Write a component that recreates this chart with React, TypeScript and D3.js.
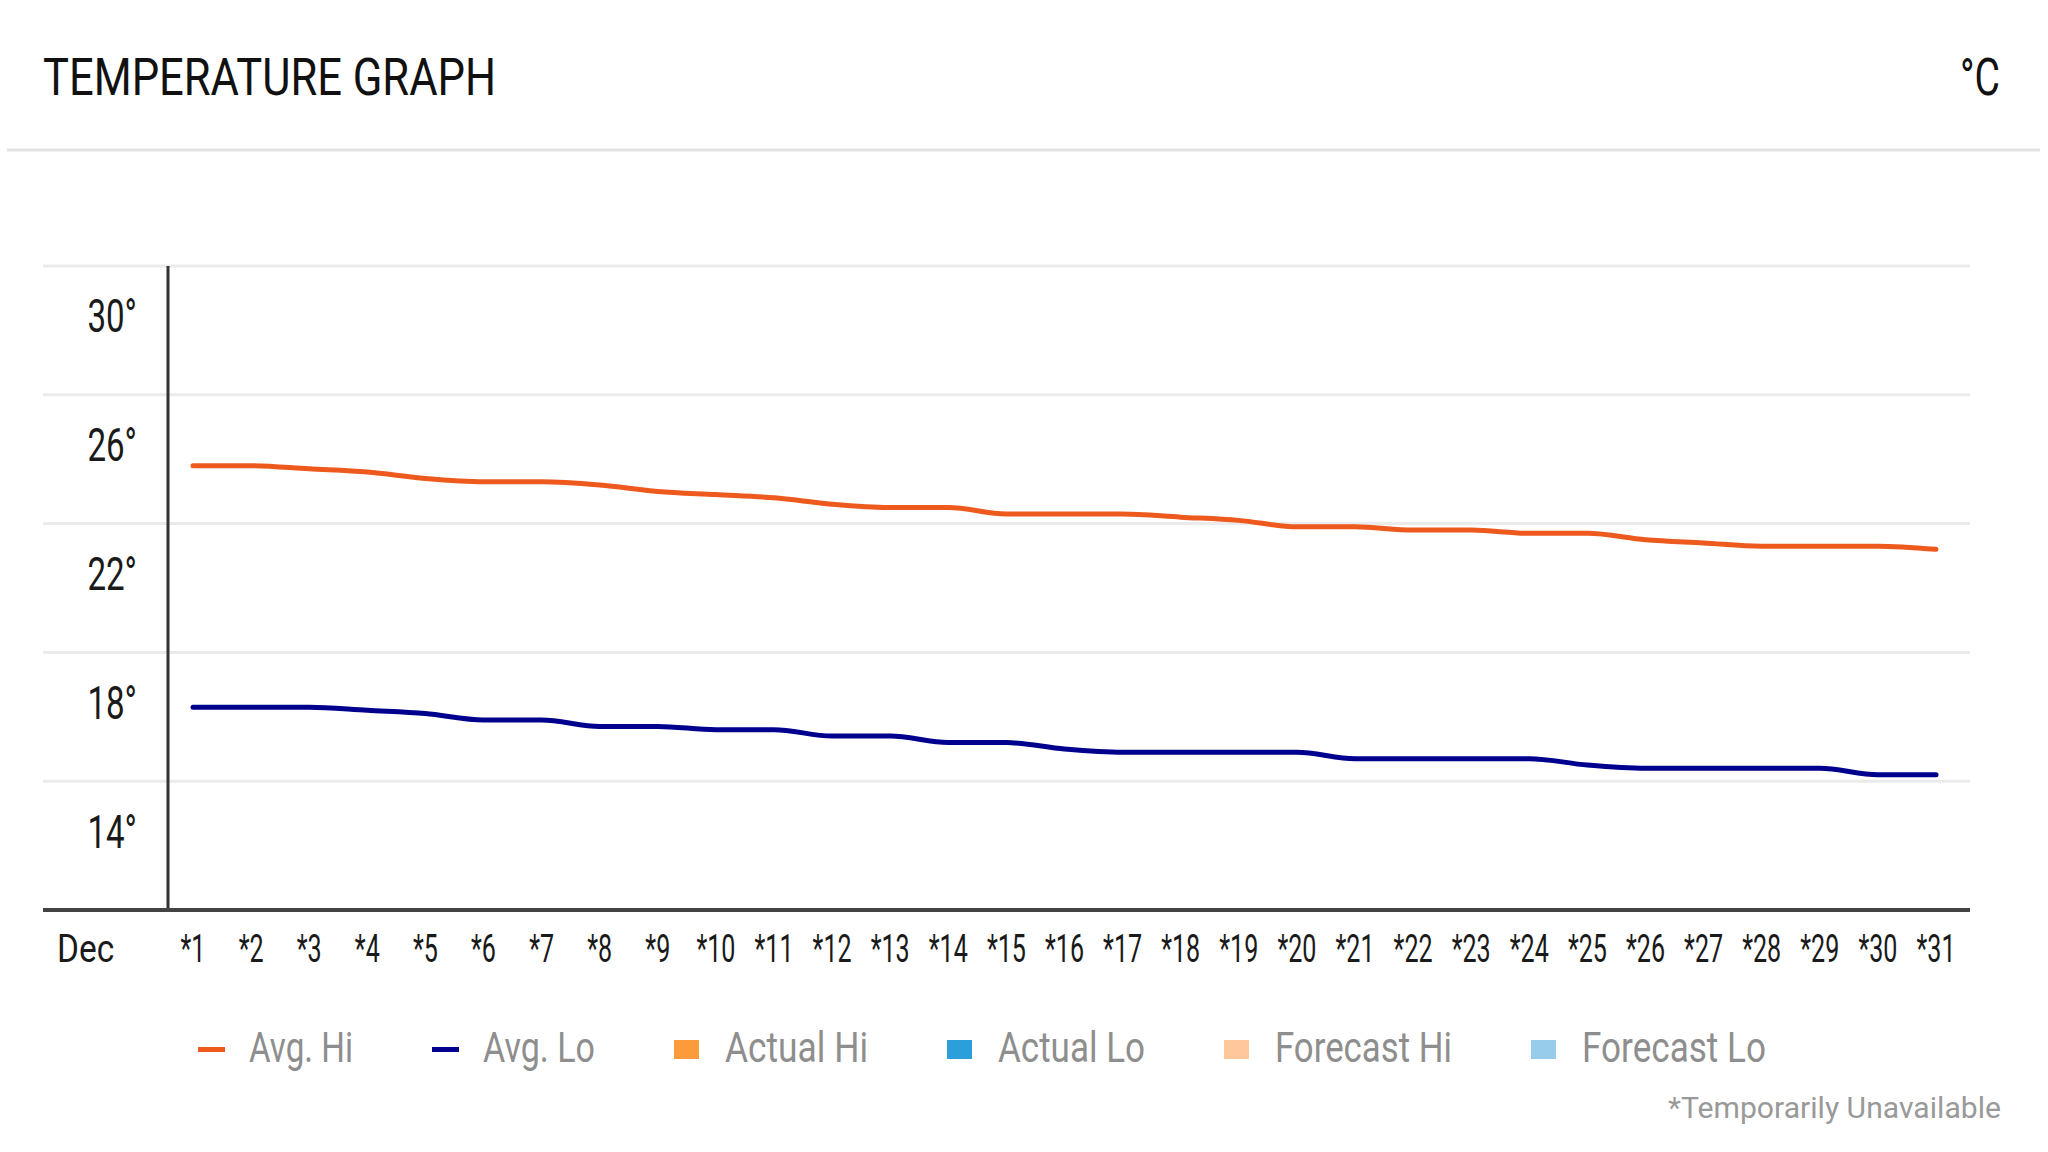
import * as d3 from "d3";
import React from "react";

// day ticks along the bottom
const dayLabels = [
  "*1", "*2", "*3", "*4", "*5", "*6", "*7", "*8", "*9", "*10",
  "*11", "*12", "*13", "*14", "*15", "*16", "*17", "*18", "*19", "*20",
  "*21", "*22", "*23", "*24", "*25", "*26", "*27", "*28", "*29", "*30", "*31",
];

// average highs / lows in °C
const avgHi = [
  25.8, 25.8, 25.7, 25.6, 25.4, 25.3, 25.3, 25.2, 25.0, 24.9,
  24.8, 24.6, 24.5, 24.5, 24.3, 24.3, 24.3, 24.2, 24.1, 23.9,
  23.9, 23.8, 23.8, 23.7, 23.7, 23.5, 23.4, 23.3, 23.3, 23.3, 23.2,
];
const avgLo = [
  18.3, 18.3, 18.3, 18.2, 18.1, 17.9, 17.9, 17.7, 17.7, 17.6,
  17.6, 17.4, 17.4, 17.2, 17.2, 17.0, 16.9, 16.9, 16.9, 16.9,
  16.7, 16.7, 16.7, 16.7, 16.5, 16.4, 16.4, 16.4, 16.4, 16.2, 16.2,
];

const gridTemps = [16, 20, 24, 28, 32];
const labelTemps = [14, 18, 22, 26, 30];

const legendNames = ["Avg. Hi", "Avg. Lo", "Actual Hi", "Actual Lo", "Forecast Hi", "Forecast Lo"];
const legendColors = ["#ee5a1e", "#00008f", "#fd9a3a", "#2b9fd9", "#fec89a", "#97cdeb"];
const legendKinds = ["line", "line", "box", "box", "box", "box"];

const FONT = "Roboto, 'DejaVu Sans', sans-serif";

const App: React.FC = () => {
  const W = 2048, H = 1152;
  const left = 43, axisX = 168, right = 1970;
  const top = 266, bottom = 910;

  const x = d3.scalePoint<string>().domain(dayLabels).range([193, 1936]);
  const y = d3.scaleLinear().domain([12, 32]).range([bottom, top]);

  const line = d3.line<number>()
    .x((_, i) => x(dayLabels[i]) as number)
    .y((d) => y(d))
    .curve(d3.curveMonotoneX);

  // legend layout: swatch, label, gap
  const legendTextW = [104, 112, 143, 147, 177, 184];
  let lx = 198;
  const legendX = legendNames.map((_, i) => {
    const cur = lx;
    lx += 51 + legendTextW[i] + 79;
    return cur;
  });

  return (
    <svg width={W} height={H} style={{ position: "absolute", left: 0, top: 0, background: "#fff" }} fontFamily={FONT}>
      {/* header */}
      <text x={43} y={95} fontSize={52} fill="#111" textLength={453} lengthAdjust="spacingAndGlyphs">TEMPERATURE GRAPH</text>
      <text x={2000} y={95} fontSize={52} fill="#111" textAnchor="end" textLength={40} lengthAdjust="spacingAndGlyphs">°C</text>
      <line x1={7} x2={2040} y1={150} y2={150} stroke="#e3e3e3" strokeWidth={3} />

      {/* grid */}
      {gridTemps.map((t) => (
        <line key={t} x1={left} x2={right} y1={y(t)} y2={y(t)} stroke="#ebebeb" strokeWidth={3} />
      ))}

      {/* y labels sit inside the bands */}
      {labelTemps.map((t) => (
        <g key={t} transform={`translate(137, ${y(t) + 2}) scale(0.72, 1)`}>
          <text x={0} y={0} fontSize={46} fill="#1a1a1a" textAnchor="end">{`${t}°`}</text>
        </g>
      ))}

      {/* axes */}
      <line x1={axisX} x2={axisX} y1={top} y2={bottom} stroke="#333" strokeWidth={3} />
      <line x1={left} x2={right} y1={bottom} y2={bottom} stroke="#444" strokeWidth={4} />

      {/* x labels */}
      <g transform={`translate(57, 962) scale(0.88, 1)`}>
        <text x={0} y={0} fontSize={38} fill="#1a1a1a">Dec</text>
      </g>
      {dayLabels.map((d) => (
        <g key={d} transform={`translate(${x(d)}, 962) scale(0.66, 1)`}>
          <text x={0} y={0} fontSize={38} fill="#1a1a1a" textAnchor="middle">{d}</text>
        </g>
      ))}

      {/* series */}
      <path d={line(avgHi) || ""} fill="none" stroke={legendColors[0]} strokeWidth={5} strokeLinecap="round" />
      <path d={line(avgLo) || ""} fill="none" stroke={legendColors[1]} strokeWidth={5} strokeLinecap="round" />

      {/* legend */}
      {legendNames.map((name, i) => (
        <g key={name}>
          {legendKinds[i] === "line"
            ? <rect x={legendX[i]} y={1047} width={27} height={5} fill={legendColors[i]} />
            : <rect x={legendX[i]} y={1040} width={25} height={19} fill={legendColors[i]} />}
          <text x={legendX[i] + 51} y={1062} fontSize={42} fill="#8e8e8e" textLength={legendTextW[i]} lengthAdjust="spacingAndGlyphs">{name}</text>
        </g>
      ))}

      <text x={2001} y={1118} fontSize={30} fill="#999" textAnchor="end" textLength={333} lengthAdjust="spacingAndGlyphs">*Temporarily Unavailable</text>
    </svg>
  );
};

export default App;
